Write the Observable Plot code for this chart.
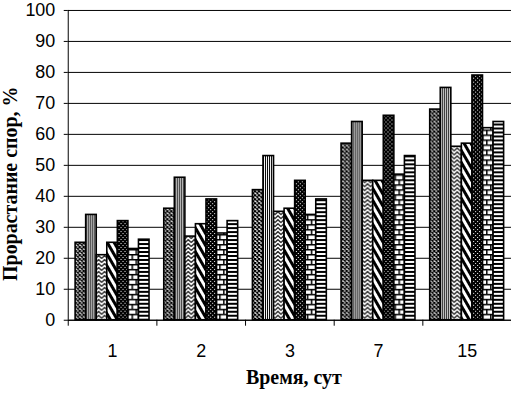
<!DOCTYPE html>
<html><head><meta charset="utf-8">
<script src="https://cdn.jsdelivr.net/npm/d3@7"></script>
<script src="https://cdn.jsdelivr.net/npm/@observablehq/plot@0.6"></script>
<style>
html,body{margin:0;padding:0;background:#fff;overflow:hidden;}
#chart svg{display:block;}
</style></head><body>
<svg width="0" height="0" style="position:absolute">
<defs>
  <pattern id="p0" patternUnits="userSpaceOnUse" width="4" height="4">
    <rect width="4" height="4" fill="#fff"/>
    <path d="M0,0L4,4M4,0L0,4" stroke="#000" stroke-width="1.3"/>
  </pattern>
  <pattern id="p1" patternUnits="userSpaceOnUse" width="2" height="4">
    <rect width="2" height="4" fill="#fff"/>
    <rect width="1" height="4" fill="#000"/>
  </pattern>
  <pattern id="p2" patternUnits="userSpaceOnUse" width="6" height="4">
    <rect width="6" height="4" fill="#fff"/>
    <path d="M0,3.5L3,0.5L6,3.5" fill="none" stroke="#000" stroke-width="1.1"/>
  </pattern>
  <pattern id="p3" patternUnits="userSpaceOnUse" width="6" height="6" patternTransform="rotate(-30)">
    <rect width="6" height="6" fill="#fff"/>
    <rect width="3" height="6" fill="#000"/>
  </pattern>
  <pattern id="p4" patternUnits="userSpaceOnUse" width="4" height="4">
    <rect width="4" height="4" fill="#000"/>
    <rect x="1" y="0" width="1" height="1" fill="#fff"/>
    <rect x="3" y="2" width="1" height="1" fill="#fff"/>
  </pattern>
  <pattern id="p5" patternUnits="userSpaceOnUse" width="8" height="10">
    <rect width="8" height="10" fill="#fff"/>
    <rect y="0" width="8" height="1.5" fill="#000"/>
    <rect y="5" width="8" height="1.5" fill="#000"/>
    <rect x="0" y="0" width="1.5" height="5" fill="#000"/>
    <rect x="4" y="5" width="1.5" height="5" fill="#000"/>
  </pattern>
  <pattern id="p6" patternUnits="userSpaceOnUse" width="4" height="4">
    <rect width="4" height="4" fill="#fff"/>
    <rect width="4" height="2" fill="#000"/>
  </pattern>
</defs></svg>
<div id="chart"></div>
<script>
const groups = ["1", "2", "3", "7", "15"];
const seriesCrosshatch = [25, 36, 42, 57, 68];
const seriesVertical   = [34, 46, 53, 64, 75];
const seriesZigzag     = [21, 27, 35, 45, 56];
const seriesDiagonal   = [25, 31, 36, 45, 57];
const seriesDotted     = [32, 39, 45, 66, 79];
const seriesBrick      = [23, 28, 34, 47, 62];
const seriesHorizontal = [26, 32, 39, 53, 64];
const yTicks = [0, 10, 20, 30, 40, 50, 60, 70, 80, 90, 100];
const xTitle = "Время, сут";
const yTitle = "Прорастание спор, %";

const allSeries = [seriesCrosshatch, seriesVertical, seriesZigzag, seriesDiagonal, seriesDotted, seriesBrick, seriesHorizontal];
const patterns = ["url(#p0)", "url(#p1)", "url(#p2)", "url(#p3)", "url(#p4)", "url(#p5)", "url(#p6)"];

const pad = 7.4 / 89;
const bw = (1 - 2 * pad) / allSeries.length;

const barMarks = allSeries.map((vals, si) => {
  const data = groups.map((g, gi) => ({g, gi, v: vals[gi]}));
  return Plot.rect(data, {
    x1: d => d.gi + pad + si * bw,
    x2: d => d.gi + pad + (si + 1) * bw,
    y1: () => 0,
    y2: "v",
    fill: patterns[si],
    stroke: "#000",
    strokeWidth: 1.6
  });
});

const sans = "Liberation Sans, Arial, sans-serif";
const serif = "Liberation Serif, Times New Roman, serif";

const chart = Plot.plot({
  width: 513,
  height: 397,
  marginLeft: 68,
  marginRight: 0,
  marginTop: 10,
  marginBottom: 76,
  style: {fontFamily: sans, fontSize: "18px", color: "#000", background: "#fff"},
  x: {type: "linear", domain: [0, groups.length], axis: null},
  y: {domain: [0, 100], axis: null},
  marks: [
    Plot.gridY(yTicks, {stroke: "#000", strokeOpacity: 1, strokeWidth: 1}),
    ...barMarks,
    Plot.ruleX([0], {stroke: "#000", strokeWidth: 1}),
    Plot.ruleY([0], {stroke: "#000", strokeWidth: 1}),
    Plot.axisY({ticks: yTicks, tickSize: 4, tickPadding: 9, fontSize: 18, label: null, stroke: "#000"}),
    Plot.axisX({ticks: d3.range(groups.length + 1), tickSize: 6, tickFormat: () => "", label: null}),
    Plot.axisX({ticks: groups.map((g, i) => i + 0.5), tickSize: 0, tickPadding: 24, fontSize: 18,
      tickFormat: d => groups[Math.floor(d)], label: null}),
    Plot.text([xTitle], {frameAnchor: "bottom", dx: 4, dy: 64, fontFamily: serif, fontWeight: "bold", fontSize: 20}),
    Plot.text([yTitle], {frameAnchor: "left", textAnchor: "middle", rotate: -90, dx: -58, dy: 18.5, fontFamily: serif, fontWeight: "bold", fontSize: 20})
  ]
});
document.getElementById("chart").appendChild(chart);
</script>
</body></html>
